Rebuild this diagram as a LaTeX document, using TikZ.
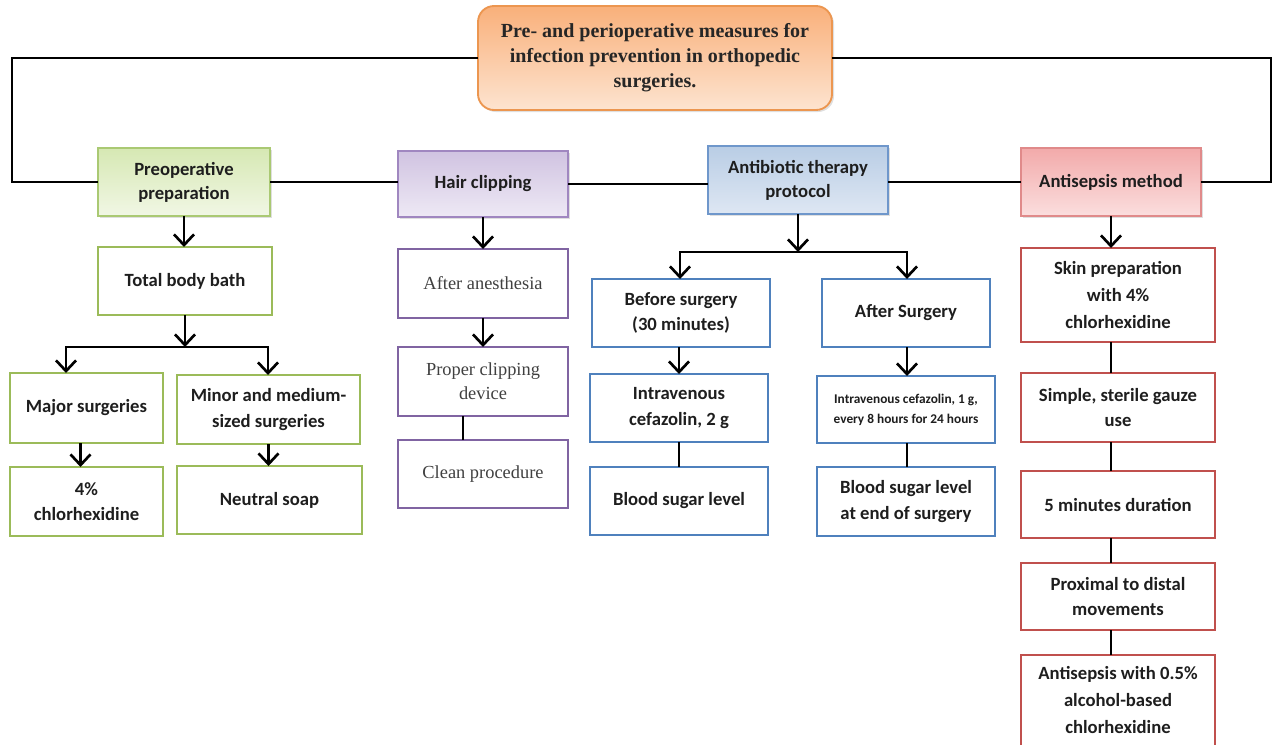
\documentclass[tikz,border=0pt]{standalone}
\usepackage{fontspec}
\setmainfont{Carlito}
\newfontfamily\tnr{Liberation Serif}
\usetikzlibrary{arrows.meta,shadows}
\definecolor{txt}{HTML}{1E1E1E}
\definecolor{gline}{HTML}{9BBB59}
\definecolor{pline}{HTML}{8064A2}
\definecolor{bline}{HTML}{4F81BD}
\definecolor{rline}{HTML}{C0504D}
\begin{document}
\begin{tikzpicture}[x=0.75pt,y=-0.75pt,
  pos/.style args={#1/#2/#3/#4}{minimum width={(#3-#1)*0.75pt}, minimum height={(#4-#2)*0.75pt},
    at={({(#1+#3)/2},{(#2+#4)/2})}},
  box/.style={draw, line width=2pt, fill=white, inner sep=0pt, outer sep=0pt, align=center,
    font=\bfseries\fontsize{14}{19}\selectfont, text=txt},
  gbox/.style={box, draw=gline},
  pbox/.style={box, draw=pline, font=\tnr\fontsize{13.8}{18}\selectfont, text=black!75},
  bbox/.style={box, draw=bline},
  rbox/.style={box, draw=rline},
  headbox/.style={draw, line width=1.3pt, inner sep=0pt, outer sep=0pt, align=center,
    font=\bfseries\fontsize{14}{18}\selectfont, text=txt,
    drop shadow={shadow xshift=1.5pt, shadow yshift=-1.5pt, opacity=0.25}},
  conn/.style={line width=2pt, black},
  arr/.style={conn, -{Straight Barb[length=8pt,width=15pt]}},
]
\useasboundingbox (0,0) rectangle (1273,744);
\clip (0,0) rectangle (1273,744);

% title
\node[draw={rgb,255:red,236;green,150;blue,80}, line width=1.4pt, rounded corners=12pt,
  top color={rgb,255:red,249;green,176;blue,122}, bottom color={rgb,255:red,253;green,228;blue,208},
  drop shadow={shadow xshift=1.5pt, shadow yshift=-1.5pt, opacity=0.25},
  pos=478/6/832/110, inner sep=0pt, outer sep=0pt, align=center,
  font=\tnr\bfseries\fontsize{15}{18.75}\selectfont, text=black!85] (title)
  {Pre- and perioperative measures for\\ infection prevention in orthopedic\\ surgeries.};

% level 1
\node[headbox, draw={rgb,255:red,170;green,201;blue,115}, top color={rgb,255:red,214;green,232;blue,179}, bottom color={rgb,255:red,241;green,247;blue,229},
  pos=98/148/270/216] (preop) {Preoperative\\ preparation};
\node[headbox, draw={rgb,255:red,160;green,135;blue,192}, top color={rgb,255:red,208;green,195;blue,225}, bottom color={rgb,255:red,238;green,233;blue,245},
  pos=398/151/568/217] (hair) {Hair clipping};
\node[headbox, draw={rgb,255:red,111;green,151;blue,203}, top color={rgb,255:red,185;green,205;blue,229}, bottom color={rgb,255:red,222;green,231;blue,243},
  pos=708/146/888/214] (antib) {Antibiotic therapy\\ protocol};
\node[headbox, draw={rgb,255:red,224;green,138;blue,138}, top color={rgb,255:red,242;green,170;blue,170}, bottom color={rgb,255:red,251;green,222;blue,222},
  pos=1021/148/1201/216] (antis) {Antisepsis method};

% loops and main line
\coordinate (LL) at (12,120);
\coordinate (RR) at (1271,120);
\draw[conn] (title.west) -| (LL) |- (preop.west);
\draw[conn] (title.east) -| (RR) |- (antis.east);
\draw[conn] (preop.east) -- (preop.east -| hair.west);
\draw[conn] (hair.east) -- (hair.east -| antib.west);
\draw[conn] (antis.west) -- (antis.west -| antib.east);

% preoperative column
\node[gbox, pos=98/247/272/315] (bath) {Total body bath};
\node[gbox, pos=10/373/163/443] (major) {Major surgeries};
\node[gbox, pos=177/375/360/444] (minor) {Minor and medium-\\ sized surgeries};
\node[gbox, pos=10/467/163/536] (chl) {4\%\\ chlorhexidine};
\node[gbox, pos=177/466/362/534] (soap) {Neutral soap};
\coordinate (bj) at (184,347);
\coordinate (bjL) at (66,347);
\coordinate (bjR) at (268,347);
\draw[arr] (preop.south) -- (preop.south |- bath.north);
\draw[arr] (bath.south) -- (bath.south |- bj);
\draw[arr] (bjR) -- (bjL) -- (bjL |- major.north);
\draw[arr] (bjL) -- (bjR) -- (bjR |- minor.north);
\draw[arr] ([xshift=-4.5pt]major.south) -- ([xshift=-4.5pt]major.south |- chl.north);
\draw[arr] (minor.south) -- (minor.south |- soap.north);

% hair clipping column
\node[pbox, pos=398/249/568/318] (anes) {After anesthesia};
\node[pbox, pos=398/347/568/416] (device) {Proper clipping\\ device};
\node[pbox, pos=398/440/568/508] (clean) {Clean procedure};
\draw[arr] (hair.south) -- (hair.south |- anes.north);
\draw[arr] (anes.south) -- (device.north);
\draw[conn] ([xshift=-15pt]device.south) -- ([xshift=-15pt]clean.north);

% antibiotic column
\node[bbox, pos=592/279/770/347] (before) {Before surgery\\ (30 minutes)};
\node[bbox, pos=822/279/990/347] (after) {After Surgery};
\node[bbox, pos=590/374/768/442] (iv2) {Intravenous\\ cefazolin, 2 g};
\node[bbox, pos=590/467/768/535] (bs1) {Blood sugar level};
\node[bbox, pos=817/376/995/443, font=\bfseries\fontsize{10}{15}\selectfont] (iv1) {Intravenous cefazolin, 1 g,\\ every 8 hours for 24 hours};
\node[bbox, pos=817/467/995/536] (bs2) {Blood sugar level\\ at end of surgery};
\coordinate (aj) at (798,252);
\coordinate (ajL) at (680,252);
\coordinate (ajR) at (907,252);
\draw[arr] (antib.south) -- (antib.south |- aj);
\draw[arr] (ajR) -- (ajL) -- (ajL |- before.north);
\draw[arr] (ajL) -- (ajR) -- (ajR |- after.north);
\draw[arr] (before.south -| iv2.north) -- (iv2.north);
\draw[conn] (iv2.south) -- (bs1.north);
\draw[arr] (after.south -| ajR) -- (ajR |- iv1.north);
\draw[conn] (ajR |- iv1.south) -- (ajR |- bs2.north);

% antisepsis column
\node[rbox, pos=1021/248/1215/342, font=\bfseries\fontsize{14}{20}\selectfont] (skin) {Skin preparation\\ with 4\%\\ chlorhexidine};
\node[rbox, pos=1021/373/1215/442] (gauze) {Simple, sterile gauze\\ use};
\node[rbox, pos=1021/471/1215/538] (dur) {5 minutes duration};
\node[rbox, pos=1021/563/1215/630] (prox) {Proximal to distal\\ movements};
\node[rbox, pos=1021/655/1215/770] (alc) {};
\node[align=center, font=\bfseries\fontsize{14}{20}\selectfont, text=txt, anchor=north] (alct) at (1118,662) {Antisepsis with 0.5\%\\ alcohol-based\\ chlorhexidine};
\draw[arr] (antis.south) -- (antis.south |- skin.north);
\draw[conn] (antis.south |- skin.south) -- (antis.south |- gauze.north);
\draw[conn] (antis.south |- gauze.south) -- (antis.south |- dur.north);
\draw[conn] (antis.south |- dur.south) -- (antis.south |- prox.north);
\draw[conn] (antis.south |- prox.south) -- (antis.south |- alc.north);
\end{tikzpicture}
\end{document}
